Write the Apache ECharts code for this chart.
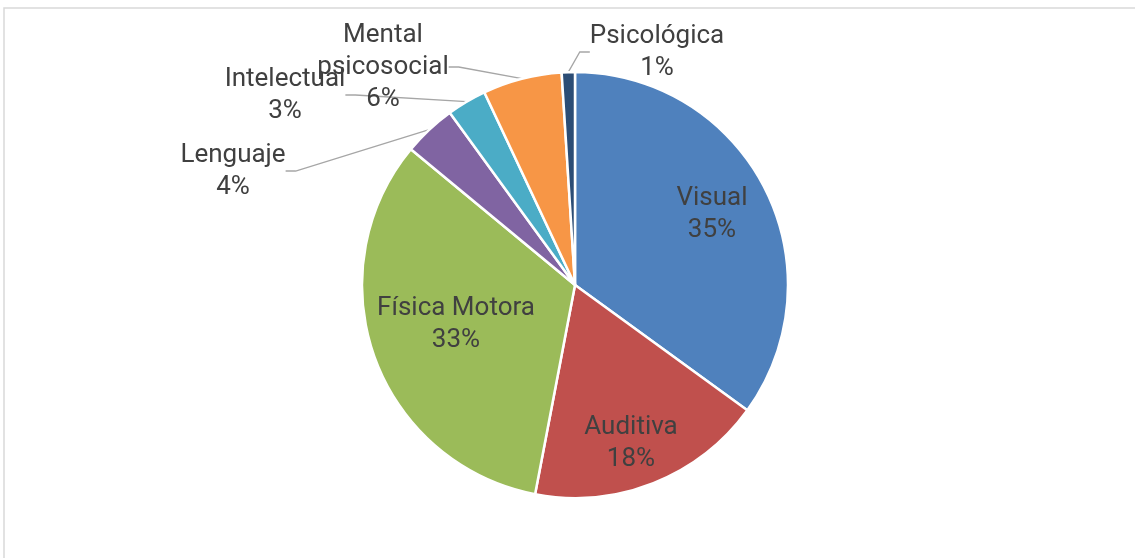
<!DOCTYPE html>
<html>
<head>
<meta charset="utf-8">
<script src="https://cdn.jsdelivr.net/npm/echarts@6/dist/echarts.min.js"></script>
<style>
  html, body { margin: 0; padding: 0; background: #fff; }
  #echart_pie { width: 1135px; height: 558px; }
</style>
</head>
<body>
<div id="echart_pie"></div>
<script>
var categories = ['Visual', 'Auditiva', 'Física Motora', 'Lenguaje', 'Intelectual', 'Mental\npsicosocial', 'Psicológica'];
var percents = [35, 18, 33, 4, 3, 6, 1];
var colors = ['#4F81BD', '#C0504D', '#9BBB59', '#8064A2', '#4BACC6', '#F79646', '#2C4D75'];
var insideLabels = [true, true, true, false, false, false, false];

// label block centres, in pixels
var labelPos = [[712, 214], [631, 443], [456, 324], [233, 171], [285, 95], [383, 67], [657, 52]];

var pieData = categories.map(function (name, i) {
    return {
        name: name,
        value: percents[i],
        itemStyle: { color: colors[i] },
        label: { position: insideLabels[i] ? 'inside' : 'outside' },
        labelLine: { show: !insideLabels[i] }
    };
});

var myChart_pie = echarts.init(document.getElementById('echart_pie'));
var option_pie = {
    animation: false,
    graphic: [{
        type: 'rect',
        shape: { x: 4, y: 8, width: 1140, height: 560 },
        style: { fill: 'none', stroke: '#d9d9d9', lineWidth: 1.5 },
        silent: true
    }],
    series: [{
        type: 'pie',
        center: [575, 285],
        radius: 213,
        startAngle: 90,
        clockwise: true,
        data: pieData,
        itemStyle: { borderColor: '#fff', borderWidth: 2.5 },
        label: {
            formatter: '{b}\n{c}%',
            fontFamily: 'Roboto',
            fontSize: 26,
            lineHeight: 32,
            color: '#404040',
            align: 'center'
        },
        labelLine: {
            lineStyle: { color: '#a6a6a6', width: 1.3 },
            length: 20,
            length2: 10
        },
        labelLayout: function (params) {
            var p = labelPos[params.dataIndex];
            return { x: p[0], y: p[1], align: 'center', verticalAlign: 'middle' };
        }
    }]
};
myChart_pie.setOption(option_pie);
</script>
</body>
</html>
